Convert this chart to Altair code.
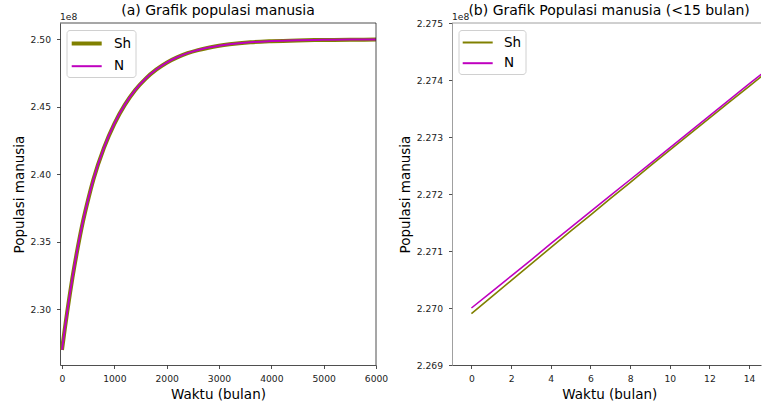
import altair as alt
import pandas as pd

FONT = "DejaVu Sans"
OLIVE = "#808000"
MAGENTA = "#bf00bf"

# ---- (a) full run, population in units of 1e8 ----
t_a = [0, 50, 100, 150, 200, 300, 400, 500, 600, 800, 1000, 1200, 1400,
       1600, 1800, 2000, 2200, 2400, 2600, 2800, 3000, 3200, 3600, 4000,
       4500, 5000, 5500, 6000]
n_a = [2.2700, 2.2845, 2.2983, 2.3112, 2.3235, 2.3455, 2.3650, 2.3815,
       2.3962, 2.4195, 2.4375, 2.4515, 2.4625, 2.4710, 2.4776, 2.4828,
       2.4867, 2.4898, 2.4921, 2.4939, 2.4953, 2.4964, 2.4979, 2.4987,
       2.4993, 2.4996, 2.4998, 2.4999]
sh_a = [2.2699, 2.2844, 2.2982, 2.3111, 2.3234, 2.3454, 2.3649, 2.3814,
        2.3961, 2.4194, 2.4374, 2.4514, 2.4624, 2.4709, 2.4775, 2.4827,
        2.4866, 2.4897, 2.4920, 2.4938, 2.4952, 2.4963, 2.4978, 2.4986,
        2.4992, 2.4995, 2.4997, 2.4998]

# ---- (b) first 15 months ----
t_b = list(range(16))
n_b = [2.27000, 2.27028, 2.27056, 2.27084, 2.27113, 2.27141, 2.27169,
       2.27197, 2.27225, 2.27253, 2.27281, 2.27309, 2.27337, 2.27365,
       2.27393, 2.27421]
sh_b = [2.26990, 2.27019, 2.27048, 2.27077, 2.27106, 2.27135, 2.27163,
        2.27192, 2.27220, 2.27249, 2.27277, 2.27305, 2.27333, 2.27361,
        2.27389, 2.27417]

series = ["Sh", "N"]
colors = [OLIVE, MAGENTA]

x_ticks_a = [0, 1000, 2000, 3000, 4000, 5000, 6000]
y_ticks_a = [2.30, 2.35, 2.40, 2.45, 2.50]
x_ticks_b = [0, 2, 4, 6, 8, 10, 12, 14]
y_ticks_b = [2.269, 2.270, 2.271, 2.272, 2.273, 2.274, 2.275]

W_A, W_B, H = 316, 309, 342
TITLE_OFFSET = -16


def frame(t, sh, n):
    return pd.concat([
        pd.DataFrame({"t": t, "v": sh, "s": "Sh"}),
        pd.DataFrame({"t": t, "v": n, "s": "N"}),
    ], ignore_index=True)


def legend():
    return alt.Legend(
        orient="none", legendX=6.5, legendY=7, title=None,
        symbolType="M-2,0H2", symbolSize=225, symbolOffset=6.7,
        labelOffset=17.7, padding=4, rowPadding=5.7,
        strokeColor="#d0d0d0", fillColor="white", cornerRadius=3,
        labelFont=FONT, labelFontSize=13.5, labelColor="black",
        symbolStrokeWidth=2,
    )


def axis(values, fmt, title, domain_color="#222", **kw):
    return alt.Axis(
        values=values, format=fmt, title=title, grid=False,
        tickSize=3.5, tickWidth=0.8, tickColor="#222",
        domainColor=domain_color, domainWidth=0.8,
        labelFont=FONT, labelFontSize=9.2, labelColor="#222",
        labelPadding=6, labelFlush=False, labelOverlap=False,
        titleFont=FONT, titleFontSize=13.5, titleFontWeight="normal",
        titleColor="black", titlePadding=4, **kw,
    )


def offset_label():
    return alt.Chart(pd.DataFrame({"txt": ["1e8"]})).mark_text(
        align="left", baseline="alphabetic", font=FONT, fontSize=9.2,
        color="#222",
    ).encode(text="txt:N", x=alt.value(0), y=alt.value(-3))


def spine(color, x0, x1, y0, y1):
    return alt.Chart(pd.DataFrame({"k": [0]})).mark_rule(
        color=color, strokeWidth=0.8
    ).encode(x=alt.value(x0), x2=alt.value(x1), y=alt.value(y0), y2=alt.value(y1))


# panel (a): thick Sh underneath, thinner N on top
df_a = frame(t_a, sh_a, n_a)
base_a = alt.Chart(df_a).mark_line(interpolate="monotone", clip=True).encode(
    x=alt.X("t:Q", scale=alt.Scale(domain=[-38, 6000], nice=False, zero=False),
            axis=axis(x_ticks_a, "d", "Waktu (bulan)")),
    y=alt.Y("v:Q", scale=alt.Scale(domain=[2.2587, 2.5121], nice=False, zero=False),
            axis=axis(y_ticks_a, ".2f", "Populasi manusia")),
    color=alt.Color("s:N", scale=alt.Scale(domain=series, range=colors), legend=legend()),
    strokeWidth=alt.StrokeWidth("s:N", scale=alt.Scale(domain=series, range=[4, 2]),
                                legend=legend()),
)
panel_a = alt.layer(
    base_a.transform_filter(alt.datum.s == "Sh"),
    base_a.transform_filter(alt.datum.s == "N"),
    offset_label(),
    spine("#222", 0, W_A, 0, 0),
    spine("#222", W_A, W_A, 0, H),
).properties(
    width=W_A, height=H,
    title=alt.TitleParams("(a) Grafik populasi manusia", font=FONT, fontSize=14,
                          fontWeight="normal", color="black", anchor="middle",
                          baseline="alphabetic", offset=TITLE_OFFSET, frame="group"),
)

# panel (b)
df_b = frame(t_b, sh_b, n_b)
base_b = alt.Chart(df_b).mark_line(strokeWidth=1.6, clip=True).encode(
    x=alt.X("t:Q", scale=alt.Scale(domain=[-0.98, 14.6], nice=False, zero=False),
            axis=axis(x_ticks_b, "d", "Waktu (bulan)", titleX=157.3)),
    y=alt.Y("v:Q", scale=alt.Scale(domain=[2.269, 2.275], nice=False, zero=False),
            axis=axis(y_ticks_b, ".3f", "Populasi manusia", domain_color="#888")),
    color=alt.Color("s:N", scale=alt.Scale(domain=series, range=colors), legend=legend()),
)
panel_b = alt.layer(
    base_b.transform_filter(alt.datum.s == "Sh"),
    base_b.transform_filter(alt.datum.s == "N"),
    offset_label(),
    spine("#888", 0, W_B, 0, 0),
).properties(
    width=W_B, height=H,
    title=alt.TitleParams("(b) Grafik Populasi manusia (<15 bulan)", font=FONT,
                          fontSize=14, fontWeight="normal", color="black",
                          anchor="middle", baseline="alphabetic",
                          offset=TITLE_OFFSET, frame="group", dx=2.6),
)

chart = alt.hconcat(panel_a, panel_b, spacing=76).resolve_scale(
    color="independent", strokeWidth="independent", x="independent", y="independent"
).resolve_legend(color="independent", strokeWidth="independent").properties(
    bounds="flush",
    padding={"left": 12, "top": 4, "right": 0, "bottom": 6},
).configure(background="white").configure_view(strokeOpacity=0)

chart.save("out.html", embed_options={"renderer": "svg", "actions": False})
